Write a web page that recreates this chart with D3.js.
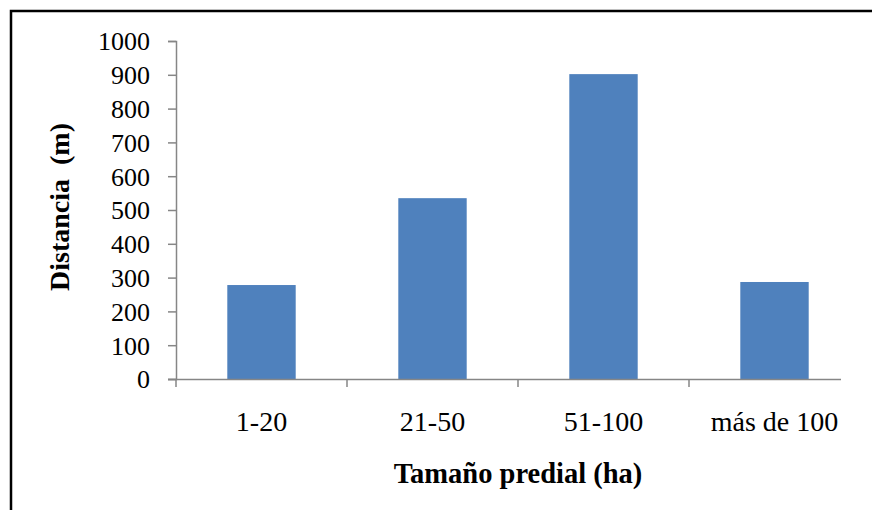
<!DOCTYPE html>
<html>
<head>
<meta charset="utf-8">
<script src="https://cdn.jsdelivr.net/npm/d3@7"></script>
<style>
  body { margin: 0; background: #fff; }
</style>
</head>
<body>
<svg id="chart" width="872" height="510"></svg>
<script>
// values
const categories = ["1-20", "21-50", "51-100", "más de 100"];
const distances = [278, 535, 902, 287];
const yTicks = [0, 100, 200, 300, 400, 500, 600, 700, 800, 900, 1000];

const serif = "'Liberation Serif', 'Times New Roman', 'DejaVu Serif', serif";

const svg = d3.select("#chart")
    .attr("font-family", serif);

// outer frame (cropped on right and bottom in the original)
svg.append("rect")
    .attr("x", 11).attr("y", 11)
    .attr("width", 900).attr("height", 600)
    .attr("fill", "none").attr("stroke", "#000").attr("stroke-width", 2.5);

const plotLeft = 176, plotRight = 860, plotTop = 41, plotBottom = 379;

const x = d3.scaleBand()
    .domain(categories)
    .range([plotLeft, plotRight])
    .paddingInner(0.6)
    .paddingOuter(0.3);

const y = d3.scaleLinear()
    .domain([0, 1000])
    .range([plotBottom, plotTop]);

// bars
svg.append("g").selectAll("rect")
    .data(distances)
    .join("rect")
    .attr("x", (d, i) => x(categories[i]))
    .attr("y", d => y(d))
    .attr("width", x.bandwidth())
    .attr("height", d => y(0) - y(d))
    .attr("fill", "#4F81BD");

// y axis
const yAxis = svg.append("g")
    .attr("transform", "translate(" + plotLeft + ",0)")
    .call(d3.axisLeft(y).tickValues(yTicks).tickSize(8).tickPadding(18).tickFormat(d3.format("d")))
    .attr("font-family", serif)
    .attr("font-size", 26);
yAxis.select(".domain").attr("stroke", "#868686").attr("stroke-width", 1.5);
yAxis.selectAll(".tick line").attr("stroke", "#868686").attr("stroke-width", 1.5);
yAxis.selectAll(".tick text")
    .attr("fill", "#000")
    .attr("dy", "0.34em");

// x axis: line stops short of the last boundary as in the source
const step = x.step();
const boundaries = d3.range(0, categories.length).map(i => plotLeft + i * step);
svg.append("line")
    .attr("x1", plotLeft - 8).attr("x2", 841)
    .attr("y1", plotBottom + 0.5).attr("y2", plotBottom + 0.5)
    .attr("stroke", "#868686").attr("stroke-width", 1.5);
svg.append("g").selectAll("line")
    .data(boundaries)
    .join("line")
    .attr("x1", d => d).attr("x2", d => d)
    .attr("y1", plotBottom).attr("y2", plotBottom + 8)
    .attr("stroke", "#868686").attr("stroke-width", 1.5);

svg.append("g").selectAll("text")
    .data(categories)
    .join("text")
    .attr("x", d => x(d) + x.bandwidth() / 2)
    .attr("y", 431)
    .attr("text-anchor", "middle")
    .attr("font-family", serif)
    .attr("font-size", 28)
    .text(d => d);

// axis titles
svg.append("text")
    .attr("x", (plotLeft + plotRight) / 2)
    .attr("y", 483)
    .attr("text-anchor", "middle")
    .attr("font-family", serif)
    .attr("font-size", 28.5)
    .attr("font-weight", "bold")
    .text("Tamaño predial (ha)");

svg.append("text")
    .attr("transform", "translate(69," + ((plotTop + plotBottom) / 2 - 3) + ") rotate(-90)")
    .attr("text-anchor", "middle")
    .attr("font-family", serif)
    .attr("font-size", 28)
    .attr("font-weight", "bold")
    .style("white-space", "pre")
    .text("Distancia  (m)");
</script>
</body>
</html>
